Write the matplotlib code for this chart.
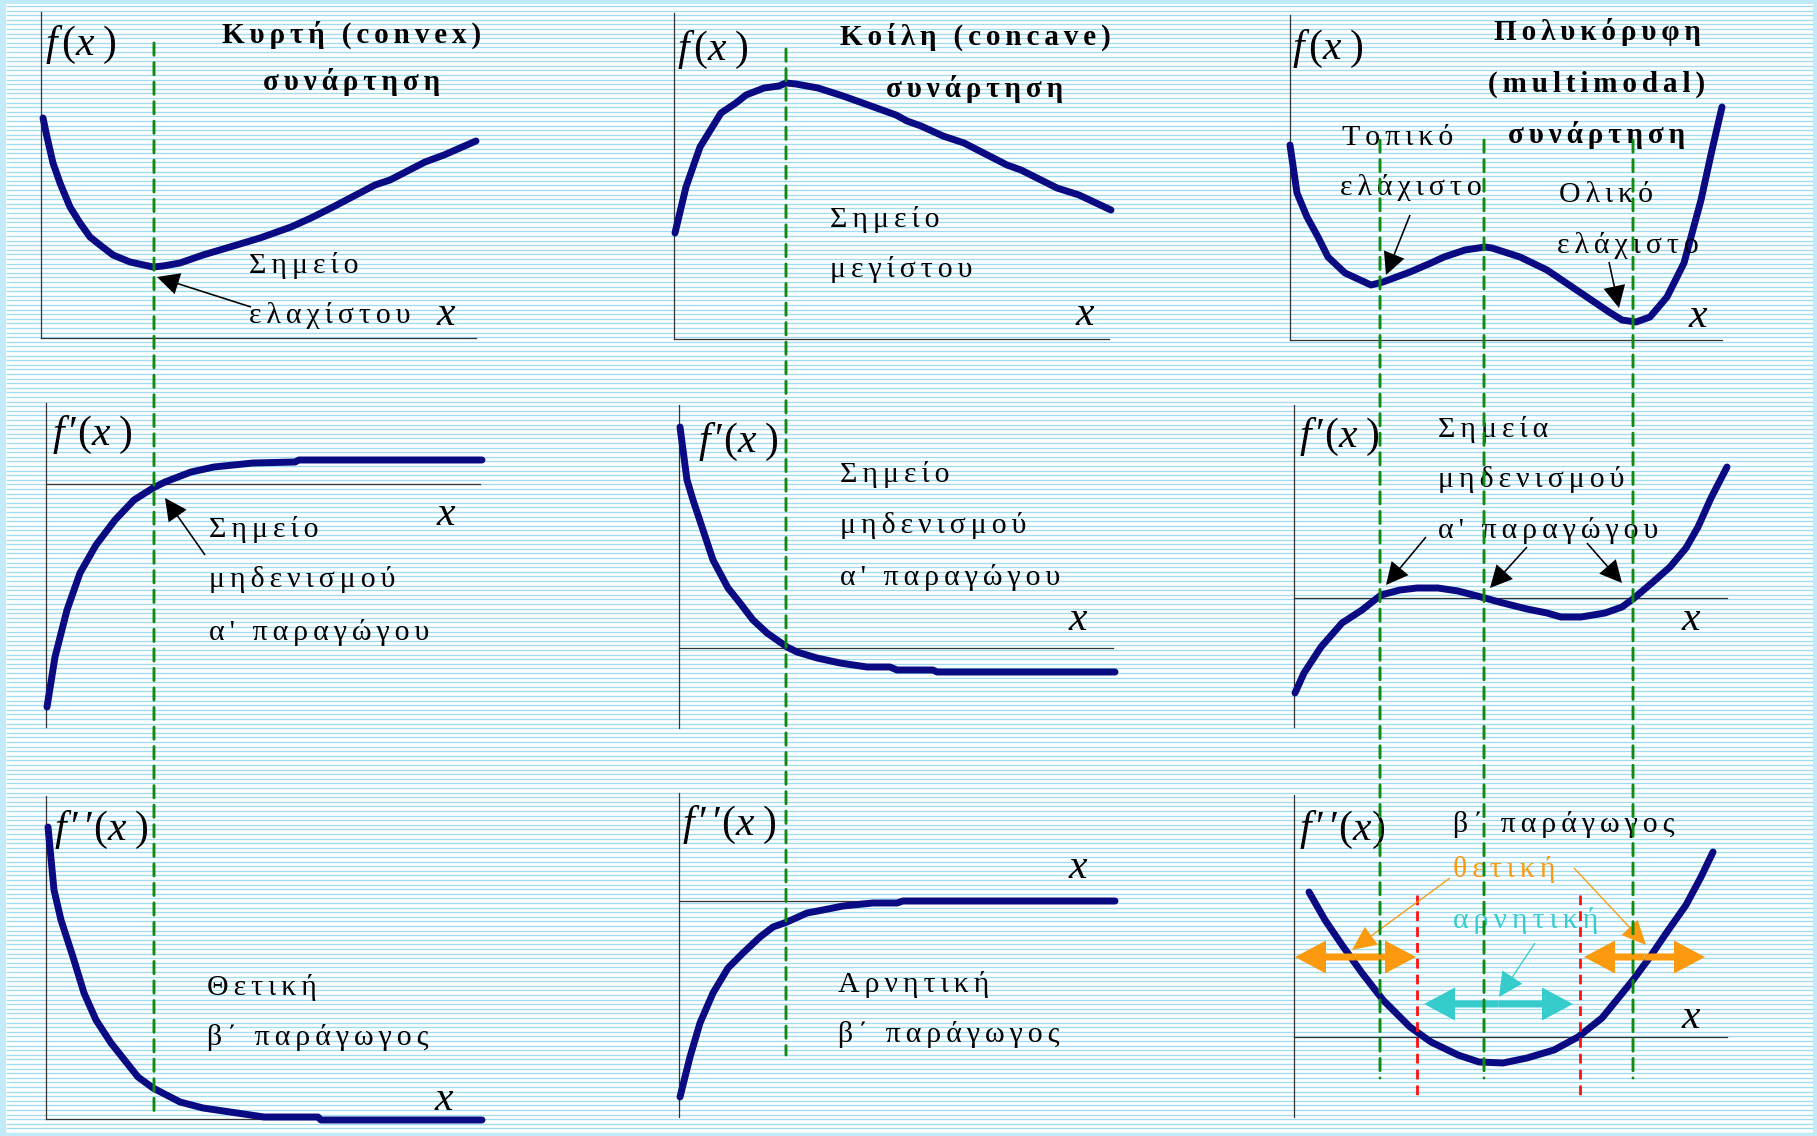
import numpy as np
import matplotlib
matplotlib.use("Agg")
import matplotlib.pyplot as plt
from matplotlib.patches import ConnectionPatch
from matplotlib.transforms import blended_transform_factory

# curves, in pixels:
# x measured from the y-axis, y measured upward from the x-axis
convex_x = [2, 6, 12, 19, 29, 39, 49, 59, 72, 89, 112, 122, 139, 162, 189, 219, 250, 270,
            292, 334, 349, 384, 403, 435]
convex_y = [220, 201, 175, 155, 131, 115, 101, 93, 83, 76, 71, 72, 75, 83, 91, 100, 111, 120,
            131, 153, 158, 176, 183, 197]
convex_d1_x = [1, 9, 21, 34, 50, 69, 88, 107, 119, 145, 168, 207, 249, 253, 436]
convex_d1_y = [-223, -173, -126, -89, -61, -36, -16, -4, 2, 12, 17, 21, 22, 24, 24]
convex_d2_x = [2, 8, 15, 27, 38, 50, 65, 92, 107, 134, 157, 191, 218, 272, 275, 436]
convex_d2_y = [292, 229, 199, 162, 126, 99, 76, 42, 31, 17, 11, 6, 2, 2, -1, -1]

concave_x = [1, 12, 26, 47, 62, 72, 90, 105, 112, 122, 144, 169, 197, 222, 233, 247,
             269, 290, 333, 347, 383, 405, 437]
concave_y = [106, 152, 192, 226, 236, 244, 251, 253, 256, 255, 251, 243, 233, 224, 218, 213,
             203, 196, 174, 169, 151, 144, 129]
concave_d1_x = [1, 8, 14, 24, 34, 49, 61, 74, 88, 108, 118, 138, 161, 188, 211, 218, 254, 258, 436]
concave_d1_y = [221, 168, 148, 118, 88, 60, 45, 28, 15, 1, -4, -10, -15, -19, -19, -22, -22, -24, -24]
concave_d2_x = [1, 11, 21, 34, 49, 64, 81, 94, 108, 128, 144, 164, 194, 218, 224, 436]
concave_d2_y = [-196, -156, -122, -92, -67, -52, -36, -26, -21, -12, -9, -5, -2, -2, 0, 0]

multi_x = [0, 7, 17, 28, 38, 55, 81, 93, 120, 141, 154, 175, 195, 202, 230, 257, 291,
           319, 332, 346, 360, 377, 394, 411, 422, 432]
multi_y = [195, 147, 123, 103, 83, 67, 55, 58, 68, 77, 83, 90, 93, 92, 83, 70, 47,
           28, 20, 18, 23, 43, 77, 140, 190, 233]
multi_d1_x = [1, 10, 27, 48, 68, 87, 106, 123, 144, 164, 191, 205, 233, 253, 267, 287,
              311, 328, 339, 359, 376, 392, 404, 417, 433]
multi_d1_y = [-95, -75, -49, -25, -12, 3, 8, 10, 10, 7, 0, -4, -11, -15, -19, -19,
              -15, -9, -1, 16, 31, 50, 71, 100, 131]
multi_d2_x = [15, 31, 48, 68, 89, 116, 137, 164, 185, 209, 233, 260, 284, 308, 339,
              356, 373, 392, 407, 419]
multi_d2_y = [145, 117, 92, 64, 37, 10, -5, -18, -25, -26, -21, -13, 0, 19, 57,
              80, 105, 132, 160, 185]

# x of the marked points (stationary / inflection points)
convex_mark = [113]
concave_mark = [112]
multi_mark = [90, 194, 343]
multi_sign_change = [123, 286]

W, H = 1817, 1136
NAVY = '#0a0a82'
GREEN = '#118a11'
ORANGE = '#fb9a0e'
CYAN = '#36cccc'
STRIPE = '#9fdcf2'

plt.rcParams['font.family'] = ['Liberation Serif', 'DejaVu Serif']
plt.rcParams['mathtext.fontset'] = 'custom'
plt.rcParams['mathtext.rm'] = 'Liberation Serif'
plt.rcParams['mathtext.it'] = 'Liberation Serif:italic'
plt.rcParams['mathtext.bf'] = 'Liberation Serif:bold'

fig = plt.figure(figsize=(W / 100, H / 100), dpi=100)
fig.patch.set_facecolor('#c2ebf9')

# lined paper background
bg = fig.add_axes([6 / W, 3 / H, (W - 10) / W, (H - 7) / H])
bg.set_xlim(0, 1)
bg.set_ylim(H - 7, 0)
bg.set_facecolor('white')
bg.hlines(np.arange(2, H, 4.6), 0, 1, color=STRIPE, lw=0.95)
bg.set_xticks([])
bg.set_yticks([])
for s in bg.spines.values():
    s.set_visible(False)

# panel frames in figure pixels: y-axis x, x-axis y, top, bottom, right end
boxes = {
    'A1': (41, 338, 12, 338, 476),
    'A2': (46, 484, 403, 727, 480),
    'A3': (46, 1119, 796, 1119, 482),
    'B1': (674, 339, 13, 339, 1109),
    'B2': (679, 648, 405, 728, 1113),
    'B3': (679, 901, 793, 1117, 1115),
    'C1': (1290, 340, 15, 340, 1722),
    'C2': (1294, 598, 405, 727, 1727),
    'C3': (1294, 1037, 795, 1117, 1727),
}


def panel(key):
    x0, zero, top, bottom, end = boxes[key]
    ax = fig.add_axes([x0 / W, 1 - bottom / H, (end - x0) / W, (bottom - top) / H])
    ax.set_xlim(0, end - x0)
    ax.set_ylim(zero - bottom, zero - top)
    ax.patch.set_visible(False)
    ax.set_xticks([])
    ax.set_yticks([])
    for s in ['top', 'right', 'bottom']:
        ax.spines[s].set_visible(False)
    ax.spines['left'].set_color('#333333')
    ax.spines['left'].set_linewidth(0.9)
    ax.axhline(0, color='#333333', lw=0.9, clip_on=False)
    return ax


def spaced(s, gap):
    return gap.join(s)


def label(ax, x, y, s, color='black'):
    ax.text(x, y, spaced(s, '\u2006'), fontsize=21.5, color=color,
            ha='left', va='baseline', clip_on=False, zorder=5)


def title(ax, x, y, s):
    ax.text(x, y, spaced(s, '\u2006'), fontsize=21, fontweight='bold', color='black',
            ha='center', va='baseline', clip_on=False, zorder=5)


def math(ax, x, y, s, size=30):
    ax.text(x, y, s, fontsize=size, ha='left', va='baseline', clip_on=False, zorder=5)


def pointer(ax, tail, tip, color='black', lw=1.6, hl=22, hw=22):
    ax.arrow(tail[0], tail[1], tip[0] - tail[0], tip[1] - tail[1], width=lw,
             head_width=hw, head_length=hl, length_includes_head=True,
             color=color, lw=0, clip_on=False, zorder=6)


def double_arrow(ax, x1, x2, y, color):
    xm = (x1 + x2) / 2
    for xe in (x1, x2):
        ax.arrow(xm, y, xe - xm, 0, width=7, head_width=33, head_length=31,
                 length_includes_head=True, color=color, lw=0, clip_on=False, zorder=6)


def curve(ax, x, y):
    ax.plot(x, y, color=NAVY, lw=5, solid_capstyle='round', solid_joinstyle='round',
            clip_on=False, zorder=3)


def guide(ax_top, ax_bot, x, y0, y1):
    trans = blended_transform_factory(ax_top.transData, ax_bot.transData)
    con = ConnectionPatch(xyA=(x, y0), coordsA=ax_top.transData, xyB=(x, y1), coordsB=trans,
                          color=GREEN, lw=2.1, linestyle=(0, (4.2, 2.5)))
    con.set_zorder(10)
    fig.add_artist(con)


F0 = r'$f\,(x\;)$'
F1 = r'$f\,\prime(x\;)$'
F2 = r'$f\,\prime\,\prime(x\;)$'
X = r'$x$'

# ---- column 1: convex
a1, a2, a3 = panel('A1'), panel('A2'), panel('A3')
curve(a1, convex_x, convex_y)
curve(a2, convex_d1_x, convex_d1_y)
curve(a3, convex_d2_x, convex_d2_y)
title(a1, 311, 295, 'Κυρτή (convex)')
title(a1, 311, 248, 'συνάρτηση')
math(a1, 4, 283, F0)
math(a1, 395, 13, X)
label(a1, 208, 65, 'Σημείο')
label(a1, 208, 15, 'ελαχίστου')
pointer(a1, (210, 31), (116, 61))

math(a2, 6, 39, F1)
math(a2, 390, -41, X)
label(a2, 163, -53, 'Σημείο')
label(a2, 163, -103, 'μηδενισμού')
label(a2, 163, -156, "α' παραγώγου")
pointer(a2, (159, -71), (119, -14))

math(a3, 8, 279, F2)
math(a3, 388, 9, X)
label(a3, 161, 124, 'Θετική')
label(a3, 161, 74, 'β΄ παράγωγος')
for gx in convex_mark:
    guide(a1, a3, gx, 295, 7)

# ---- column 2: concave
b1, b2, b3 = panel('B1'), panel('B2'), panel('B3')
curve(b1, concave_x, concave_y)
curve(b2, concave_d1_x, concave_d1_y)
curve(b3, concave_d2_x, concave_d2_y)
title(b1, 301, 294, 'Κοίλη (concave)')
title(b1, 301, 242, 'συνάρτηση')
math(b1, 3, 279, F0)
math(b1, 401, 14, X)
label(b1, 156, 112, 'Σημείο')
label(b1, 156, 62, 'μεγίστου')

math(b2, 19, 196, F1)
math(b2, 389, 18, X)
label(b2, 161, 166, 'Σημείο')
label(b2, 161, 115, 'μηδενισμού')
label(b2, 161, 63, "α' παραγώγου")

math(b3, 3, 66, F2)
math(b3, 389, 23, X)
label(b3, 159, -91, 'Αρνητική')
label(b3, 159, -141, 'β΄ παράγωγος')
for gx in concave_mark:
    guide(b1, b3, gx, 290, -154)

# ---- column 3: multimodal
c1, c2, c3 = panel('C1'), panel('C2'), panel('C3')
curve(c1, multi_x, multi_y)
curve(c2, multi_d1_x, multi_d1_y)
curve(c3, multi_d2_x, multi_d2_y)
title(c1, 307, 300, 'Πολυκόρυφη')
title(c1, 307, 248, '(multimodal)')
title(c1, 307, 197, 'συνάρτηση')
math(c1, 2, 281, F0)
math(c1, 398, 13, X)
label(c1, 52, 195, 'Τοπικό')
label(c1, 50, 145, 'ελάχιστο')
label(c1, 269, 138, 'Ολικό')
label(c1, 267, 87, 'ελάχιστο')
pointer(c1, (120, 125), (96, 65))
pointer(c1, (319, 78), (329, 32))

math(c2, 5, 151, F1)
math(c2, 387, -32, X)
label(c2, 144, 161, 'Σημεία')
label(c2, 144, 111, 'μηδενισμού')
label(c2, 144, 60, "α' παραγώγου")
pointer(c2, (132, 61), (92, 13))
pointer(c2, (233, 51), (196, 10))
pointer(c2, (293, 55), (328, 15))

math(c3, 5, 197, r'$f\,\prime\,\prime(x)$')
math(c3, 387, 9, X)
label(c3, 159, 205, 'β΄ παράγωγος')
label(c3, 159, 160, 'θετική', color=ORANGE)
label(c3, 159, 109, 'αρνητική', color=CYAN)
for sx in multi_sign_change:
    c3.plot([sx, sx], [142, -63], color='#ff1010', lw=2.0, linestyle=(0, (3.5, 2.2)),
            clip_on=False, zorder=4)
double_arrow(c3, 1, 122, 80, ORANGE)
double_arrow(c3, 290, 411, 80, ORANGE)
double_arrow(c3, 130, 279, 33, CYAN)
pointer(c3, (156, 159), (58, 87), color=ORANGE, lw=1.3, hl=24, hw=22)
pointer(c3, (280, 169), (352, 92), color=ORANGE, lw=1.3, hl=24, hw=22)
pointer(c3, (241, 94), (205, 40), color=CYAN, lw=1.3, hl=24, hw=24)
for gx in multi_mark:
    guide(c1, c3, gx, 200, -41)

fig.savefig('out.png', dpi=100, facecolor=fig.get_facecolor())
